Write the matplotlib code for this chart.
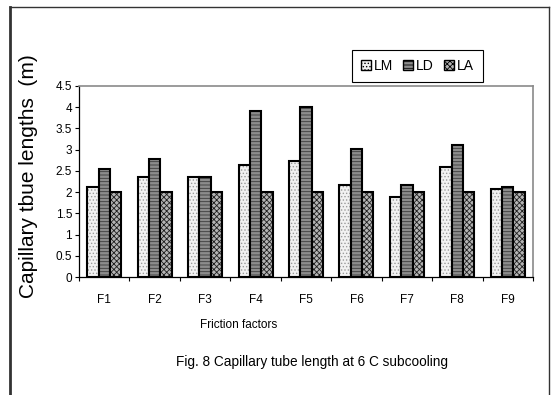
import numpy as np
import matplotlib.pyplot as plt
from matplotlib.lines import Line2D

plt.rcParams['font.family'] = ['Liberation Sans', 'DejaVu Sans']
plt.rcParams['hatch.linewidth'] = 0.6

categories = ["F1", "F2", "F3", "F4", "F5", "F6", "F7", "F8", "F9"]
lm = [2.11, 2.35, 2.35, 2.63, 2.74, 2.16, 1.89, 2.59, 2.08]
ld = [2.54, 2.78, 2.35, 3.91, 4.00, 3.01, 2.16, 3.11, 2.12]
la = [2.00, 2.00, 2.00, 2.00, 2.00, 2.00, 2.00, 2.00, 2.00]

fig = plt.figure(figsize=(5.52, 3.95), dpi=100)
ax = fig.add_axes([79 / 552, 1 - 277 / 395, (533 - 79) / 552, (277 - 86) / 395])

x = np.arange(len(categories))
w = 0.225
styles = [
    (lm, "LM", "#f2f2f2", "#9a9a9a", "....."),
    (ld, "LD", "#8c8c8c", "#3a3a3a", "-----"),
    (la, "LA", "#b4b4b4", "#1e1e1e", "xxxxxx"),
]
bars = []
for i, (vals, name, fc, hc, hatch) in enumerate(styles):
    b = ax.bar(x + (i - 1) * w, vals, w, facecolor=fc, edgecolor=hc,
               hatch=hatch, linewidth=0, label=name)
    # black outline drawn on top
    ax.bar(x + (i - 1) * w, vals, w, facecolor="none", edgecolor="black",
           linewidth=1.5)
    bars.append(b)

ax.set_xlim(-0.5, len(categories) - 0.5)
ax.set_ylim(0, 4.5)
ax.set_yticks(np.arange(0, 4.51, 0.5))
ax.set_yticklabels(["0", "0.5", "1", "1.5", "2", "2.5", "3", "3.5", "4", "4.5"])
ax.set_xticks(np.arange(-0.5, len(categories) - 0.4, 1))
ax.set_xticklabels([])
ax.set_xticks(x, minor=True)
ax.set_xticklabels(categories, minor=True)
ax.tick_params(axis="x", which="minor", length=0, pad=12, labelsize=8.5)
ax.tick_params(axis="x", which="major", length=3, direction="out", width=0.8)
ax.tick_params(axis="y", length=3, direction="out", labelsize=8.5, pad=2)

for s in ["top", "right"]:
    ax.spines[s].set_color("#8a8a8a")
    ax.spines[s].set_linewidth(1.2)
for s in ["left", "bottom"]:
    ax.spines[s].set_color("black")
    ax.spines[s].set_linewidth(0.9)

fig.text(29 / 552, 1 - 176 / 395, "Capillary tbue lengths  (m)", rotation=90,
         ha="center", va="center", fontsize=15)
fig.text(200 / 552, 1 - 325 / 395, "Friction factors", ha="left",
         va="center", fontsize=8.5)
fig.text(312 / 552, 1 - 362 / 395, "Fig. 8 Capillary tube length at 6 C subcooling",
         ha="center", va="center", fontsize=9.8)

leg = fig.legend(handles=bars, loc="center", ncol=3,
                 bbox_to_anchor=(417.5 / 552, 1 - 66 / 395),
                 fontsize=10, handlelength=0.7, handleheight=0.7,
                 handletextpad=0.25, columnspacing=0.7, fancybox=False,
                 borderpad=0.65, edgecolor="black", framealpha=1)
leg.get_frame().set_linewidth(0.8)
for h in leg.legend_handles:
    h.set_edgecolor("black")
    h.set_linewidth(1.0)

# outer chart frame
fig.add_artist(Line2D([9.5 / 552, 9.5 / 552], [0, 1 - 7 / 395],
                      transform=fig.transFigure, color="#333333", lw=2))
fig.add_artist(Line2D([9.5 / 552, 548.5 / 552], [1 - 7 / 395, 1 - 7 / 395],
                      transform=fig.transFigure, color="#333333", lw=1))
fig.add_artist(Line2D([548.5 / 552, 548.5 / 552], [0, 1 - 7 / 395],
                      transform=fig.transFigure, color="#333333", lw=1))

fig.savefig("out.png", dpi=100)
